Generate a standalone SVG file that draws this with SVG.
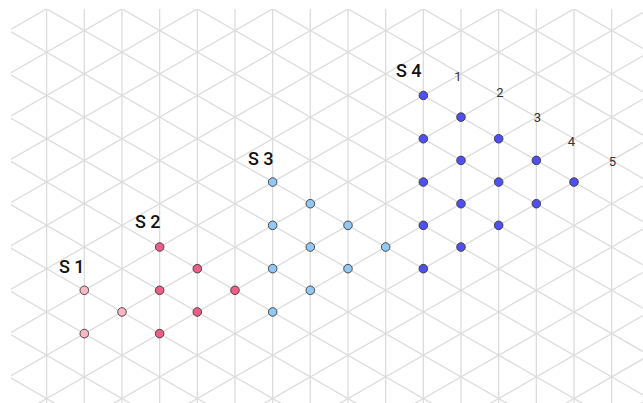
<svg xmlns="http://www.w3.org/2000/svg" width="643" height="403" viewBox="0 0 643 403">
<style>
.g line{stroke:#dcdcdc;stroke-width:1.3}
.pt{stroke:#3a3a3a;stroke-width:0.9}
.s1{fill:#ffb6c4}.s2{fill:#ee5c88}.s3{fill:#92c8f4}.s4{fill:#4f4ff5}
.lab{font-family:Roboto,"Liberation Sans",sans-serif;font-size:18px;font-weight:500;fill:#111}
.num{font-family:Roboto,"Liberation Sans",sans-serif;font-size:13px;fill:#333;text-anchor:middle}
</style>
<defs><clipPath id="clip"><rect x="11" y="9" width="632" height="394"/></clipPath></defs>
<rect width="643" height="403" fill="#fff"/>
<g id="grid" class="g" clip-path="url(#clip)">
<line x1="46.63" y1="0" x2="46.63" y2="403"/><line x1="84.3" y1="0" x2="84.3" y2="403"/><line x1="121.97" y1="0" x2="121.97" y2="403"/><line x1="159.64" y1="0" x2="159.64" y2="403"/><line x1="197.31" y1="0" x2="197.31" y2="403"/><line x1="234.98" y1="0" x2="234.98" y2="403"/><line x1="272.65" y1="0" x2="272.65" y2="403"/><line x1="310.32" y1="0" x2="310.32" y2="403"/><line x1="347.99" y1="0" x2="347.99" y2="403"/><line x1="385.66" y1="0" x2="385.66" y2="403"/><line x1="423.33" y1="0" x2="423.33" y2="403"/><line x1="461" y1="0" x2="461" y2="403"/><line x1="498.67" y1="0" x2="498.67" y2="403"/><line x1="536.34" y1="0" x2="536.34" y2="403"/><line x1="574.01" y1="0" x2="574.01" y2="403"/><line x1="611.68" y1="0" x2="611.68" y2="403"/>
<line x1="0" y1="-321.05" x2="643" y2="48.48"/><line x1="0" y1="-277.75" x2="643" y2="91.78"/><line x1="0" y1="-234.45" x2="643" y2="135.08"/><line x1="0" y1="-191.15" x2="643" y2="178.38"/><line x1="0" y1="-147.85" x2="643" y2="221.68"/><line x1="0" y1="-104.55" x2="643" y2="264.98"/><line x1="0" y1="-61.25" x2="643" y2="308.28"/><line x1="0" y1="-17.95" x2="643" y2="351.58"/><line x1="0" y1="25.35" x2="643" y2="394.88"/><line x1="0" y1="68.65" x2="643" y2="438.18"/><line x1="0" y1="111.95" x2="643" y2="481.48"/><line x1="0" y1="155.25" x2="643" y2="524.78"/><line x1="0" y1="198.55" x2="643" y2="568.08"/><line x1="0" y1="241.85" x2="643" y2="611.38"/><line x1="0" y1="285.15" x2="643" y2="654.68"/><line x1="0" y1="328.45" x2="643" y2="697.98"/><line x1="0" y1="371.75" x2="643" y2="741.28"/>
<line x1="0" y1="35.65" x2="643" y2="-333.88"/><line x1="0" y1="78.95" x2="643" y2="-290.58"/><line x1="0" y1="122.25" x2="643" y2="-247.28"/><line x1="0" y1="165.55" x2="643" y2="-203.98"/><line x1="0" y1="208.85" x2="643" y2="-160.68"/><line x1="0" y1="252.15" x2="643" y2="-117.38"/><line x1="0" y1="295.45" x2="643" y2="-74.08"/><line x1="0" y1="338.75" x2="643" y2="-30.78"/><line x1="0" y1="382.05" x2="643" y2="12.52"/><line x1="0" y1="425.35" x2="643" y2="55.82"/><line x1="0" y1="468.65" x2="643" y2="99.12"/><line x1="0" y1="511.95" x2="643" y2="142.42"/><line x1="0" y1="555.25" x2="643" y2="185.72"/><line x1="0" y1="598.55" x2="643" y2="229.02"/><line x1="0" y1="641.85" x2="643" y2="272.32"/><line x1="0" y1="685.15" x2="643" y2="315.62"/><line x1="0" y1="728.45" x2="643" y2="358.92"/><line x1="0" y1="771.75" x2="643" y2="402.22"/>
</g>
<g id="connectors"></g>
<g id="S1">
<text class="lab" x="59" y="273">S 1</text>
<circle class="pt s1" cx="84.3" cy="290.3" r="4.3"/><circle class="pt s1" cx="121.97" cy="311.95" r="4.3"/><circle class="pt s1" cx="84.3" cy="333.6" r="4.3"/>
</g>
<g id="S2">
<text class="lab" x="135" y="228">S 2</text>
<circle class="pt s2" cx="159.64" cy="247" r="4.3"/><circle class="pt s2" cx="159.64" cy="290.3" r="4.3"/><circle class="pt s2" cx="159.64" cy="333.6" r="4.3"/><circle class="pt s2" cx="197.31" cy="268.65" r="4.3"/><circle class="pt s2" cx="197.31" cy="311.95" r="4.3"/><circle class="pt s2" cx="234.98" cy="290.3" r="4.3"/>
</g>
<g id="S3">
<text class="lab" x="248" y="165">S 3</text>
<circle class="pt s3" cx="272.65" cy="182.05" r="4.3"/><circle class="pt s3" cx="272.65" cy="225.35" r="4.3"/><circle class="pt s3" cx="272.65" cy="268.65" r="4.3"/><circle class="pt s3" cx="272.65" cy="311.95" r="4.3"/><circle class="pt s3" cx="310.32" cy="203.7" r="4.3"/><circle class="pt s3" cx="310.32" cy="247" r="4.3"/><circle class="pt s3" cx="310.32" cy="290.3" r="4.3"/><circle class="pt s3" cx="347.99" cy="225.35" r="4.3"/><circle class="pt s3" cx="347.99" cy="268.65" r="4.3"/><circle class="pt s3" cx="385.66" cy="247" r="4.3"/>
</g>
<g id="S4">
<text class="lab" x="396" y="77">S 4</text>
<circle class="pt s4" cx="423.33" cy="95.45" r="4.3"/><circle class="pt s4" cx="423.33" cy="138.75" r="4.3"/><circle class="pt s4" cx="423.33" cy="182.05" r="4.3"/><circle class="pt s4" cx="423.33" cy="225.35" r="4.3"/><circle class="pt s4" cx="423.33" cy="268.65" r="4.3"/><circle class="pt s4" cx="461" cy="117.1" r="4.3"/><circle class="pt s4" cx="461" cy="160.4" r="4.3"/><circle class="pt s4" cx="461" cy="203.7" r="4.3"/><circle class="pt s4" cx="461" cy="247" r="4.3"/><circle class="pt s4" cx="498.67" cy="138.75" r="4.3"/><circle class="pt s4" cx="498.67" cy="182.05" r="4.3"/><circle class="pt s4" cx="498.67" cy="225.35" r="4.3"/><circle class="pt s4" cx="536.34" cy="160.4" r="4.3"/><circle class="pt s4" cx="536.34" cy="203.7" r="4.3"/><circle class="pt s4" cx="574.01" cy="182.05" r="4.3"/>
</g>
<g id="numbers">
<text class="num" x="458" y="81">1</text><text class="num" x="500" y="97">2</text><text class="num" x="537.5" y="122">3</text><text class="num" x="571.5" y="146">4</text><text class="num" x="612.5" y="166">5</text>
</g>
</svg>
